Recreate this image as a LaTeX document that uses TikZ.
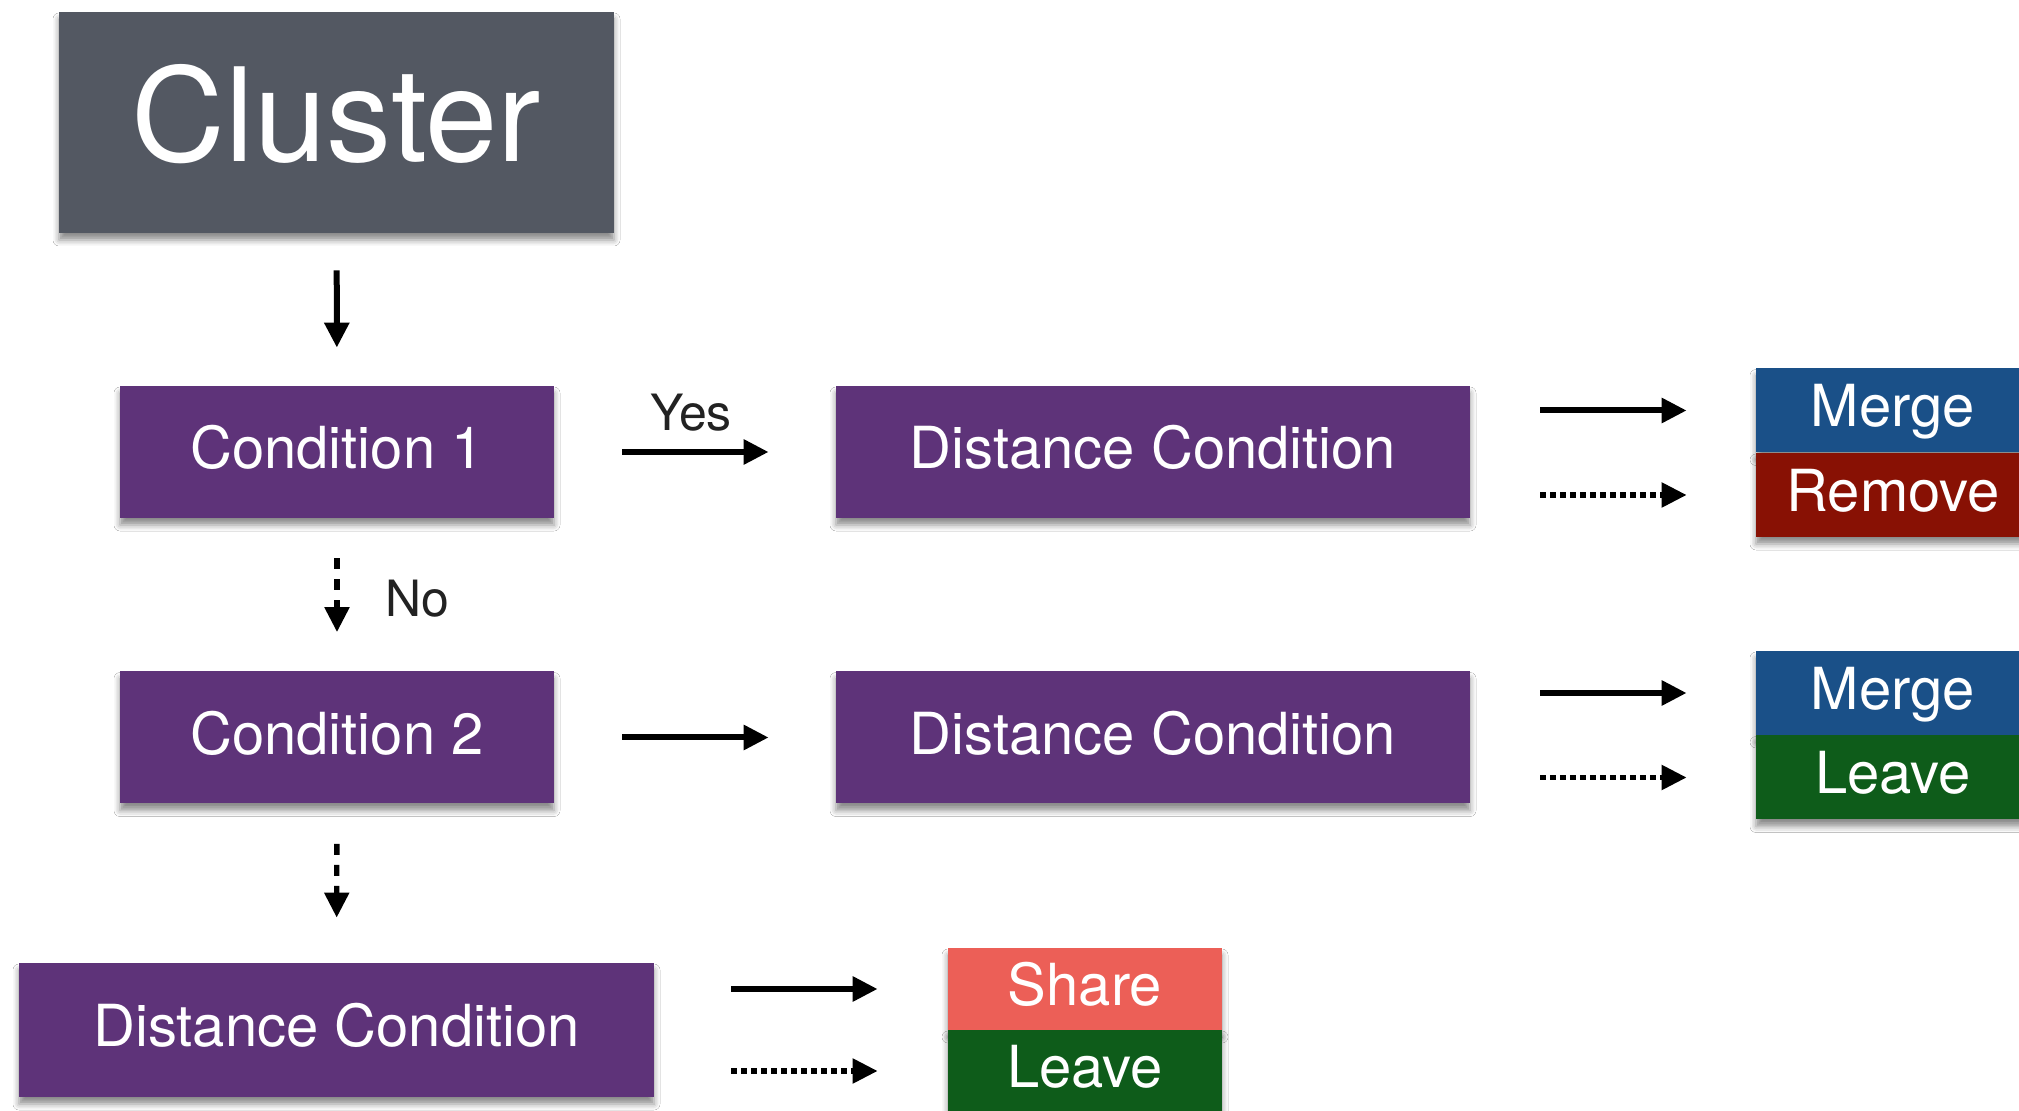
\documentclass[tikz,border=0pt]{standalone}
\usepackage{fontspec}
\setmainfont{TeX Gyre Heros}
\usetikzlibrary{arrows.meta,shadows.blur}
\definecolor{clgray}{HTML}{535862}
\definecolor{cpurple}{HTML}{5E3379}
\definecolor{cblue}{HTML}{1A5088}
\definecolor{cred}{HTML}{881104}
\definecolor{cgreen}{HTML}{0E5C1A}
\definecolor{csalmon}{HTML}{EC5F57}
\definecolor{labelgray}{HTML}{222222}
\begin{document}
\begin{tikzpicture}[x=0.5pt,y=-0.5pt,
  box/.style={rectangle, inner sep=0pt, text=white,
    font=\fontsize{29}{33}\selectfont, text depth=5pt,
    blur shadow={shadow xshift=0pt,shadow yshift=-3.5pt,shadow blur radius=3pt,shadow opacity=45}},
  condbox/.style={box, fill=cpurple, minimum width=217pt, minimum height=66pt},
  distbox/.style={box, fill=cpurple, minimum width=317pt, minimum height=66pt},
  outbox/.style={box, minimum width=137pt, minimum height=42pt},
  smallout/.style={box, minimum width=137pt, minimum height=41pt},
  solidarrow/.style={line width=3pt, -{Triangle[length=12.5pt,width=12pt]}},
  dotarrow/.style={solidarrow, line width=2.7pt, dash pattern=on 2.6pt off 2.4pt},
  dasharrow/.style={solidarrow, line width=2.7pt, dash pattern=on 5.5pt off 5pt},
  lbl/.style={font=\fontsize{25}{30}\selectfont, text=labelgray, inner sep=0pt}
]
\clip (0,0) rectangle (2019,1111);
\fill[white] (0,0) rectangle (2019,1111);

% boxes
\node[box, fill=clgray, minimum width=277.5pt, minimum height=110.5pt,
      font=\fontsize{65}{72}\selectfont, text depth=10pt] (clu) at (336.5,122.5) {Cluster};
\node[condbox] (c1) at (337,452) {Condition 1};
\node[distbox] (d1) at (1153,452) {Distance Condition};
\node[condbox] (c2) at (337,737.5) {Condition 2};
\node[distbox] (d2) at (1153,737.5) {Distance Condition};
\node[distbox, minimum width=317.5pt, minimum height=67pt] (d3) at (336.5,1030) {Distance Condition};

\node[outbox, fill=cblue] (m1) at (1893,410.5) {Merge};
\node[outbox, fill=cred] (r1) at (1893,495) {Remove};
\node[outbox, fill=cblue] (m2) at (1893,693) {Merge};
\node[outbox, fill=cgreen] (l2) at (1893,777.5) {Leave};
\node[smallout, fill=csalmon] (s3) at (1085,989) {Share};
\node[smallout, fill=cgreen] (l3) at (1085,1071) {Leave};

% vertical connectors
\draw[solidarrow, shorten <=18.5pt, shorten >=19pt] (clu) -- (c1);
\draw[dasharrow, shorten <=20pt, shorten >=19.5pt] (c1) -- (c2)
  node[lbl, pos=0.5, xshift=40pt, yshift=-2pt] (no) {No};
\draw[dasharrow, shorten <=20pt, shorten >=22.5pt] (c2) -- (d3);

% horizontal connectors
\draw[solidarrow, shorten <=34pt, shorten >=33.5pt] (c1) -- (d1)
  node[lbl, pos=0.5, yshift=19.5pt, xshift=-2pt] (yes) {Yes};
\draw[solidarrow, shorten <=34pt, shorten >=33.5pt] (c2) -- (d2);

\draw[solidarrow, shorten <=35pt, shorten >=34.5pt] (d1.east |- m1) -- (m1.west);
\draw[dotarrow, shorten <=35pt, shorten >=34.5pt] (d1.east |- r1) -- (r1.west);
\draw[solidarrow, shorten <=35pt, shorten >=34.5pt] (d2.east |- m2) -- (m2.west);
\draw[dotarrow, shorten <=35pt, shorten >=34.5pt] (d2.east |- l2) -- (l2.west);

\draw[solidarrow, shorten <=38.5pt, shorten >=35pt] (d3.east |- s3) -- (s3.west);
\draw[dotarrow, shorten <=38.5pt, shorten >=35pt] (d3.east |- l3) -- (l3.west);
\end{tikzpicture}
\end{document}
